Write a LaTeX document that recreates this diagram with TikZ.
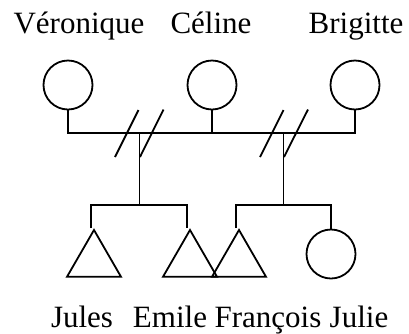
\documentclass[tikz,border=0pt]{standalone}
\usepackage{fontspec}
\setmainfont{Liberation Serif}
\usetikzlibrary{shapes.geometric}
\begin{document}
\begin{tikzpicture}[x=1pt,y=-1pt,line width=1.8pt,
  female/.style={draw,circle,inner sep=0pt,minimum size=49pt},
  male/.style={draw,regular polygon,regular polygon sides=3,inner sep=0pt,minimum size=62.4pt,line join=miter},
  lbl/.style={anchor=base,inner sep=0pt,font=\fontsize{31}{37}\selectfont},
  conn/.style={draw,line width=1.8pt}]
\useasboundingbox (0,0) rectangle (409,333);
% labels
\node[lbl] (tv) at (79,33) {Véronique};
\node[lbl] (tc) at (211,33) {Céline};
\node[lbl] (tb) at (356,33) {Brigitte};
\node[lbl] (tj) at (82,327) {Jules};
\node[lbl] (te) at (170,327) {Emile};
\node[lbl] (tf) at (268,327) {François};
\node[lbl] (tu) at (359,327) {Julie};
% parents
\node[female] (v) at (68,85) {};
\node[female] (c) at (212,85) {};
\node[female] (b) at (355,85) {};
% children
\node[male] (j) at (94,261.2) {};
\node[male] (e) at (190,261.2) {};
\node[male] (f) at (239,261.2) {};
\node[female] (u) at (331,254) {};
% marriage line
\coordinate (lv) at (68,133);
\coordinate (lb) at (355,133);
\coordinate (d1) at (139.5,133);
\coordinate (d2) at (283.5,133);
\coordinate (s1) at (139.5,205);
\coordinate (s2) at (283.5,205);
\draw[conn] (v.south) -- (lv) -- (lb) -- (b.south);
\draw[conn] (c.south) -- (c.south |- lv);
\draw[conn] (d1) -- (s1);
\draw[conn] (d2) -- (s2);
% divorce slashes
\coordinate (a1) at (115,157); \coordinate (a2) at (138.5,110);
\coordinate (a3) at (140,157); \coordinate (a4) at (163.5,109.5);
\coordinate (b1) at (260,157); \coordinate (b2) at (283.5,110);
\coordinate (b3) at (284,157); \coordinate (b4) at (308,109.5);
\draw[conn] (a1) -- (a2);
\draw[conn] (a3) -- (a4);
\draw[conn] (b1) -- (b2);
\draw[conn] (b3) -- (b4);
% sibling lines
\draw[conn] ([xshift=-3pt]j.north) |- (s1) -| ([xshift=-3pt]e.north);
\draw[conn] ([xshift=-3pt]f.north) |- (s2) -| (u.north);
\end{tikzpicture}
\end{document}
